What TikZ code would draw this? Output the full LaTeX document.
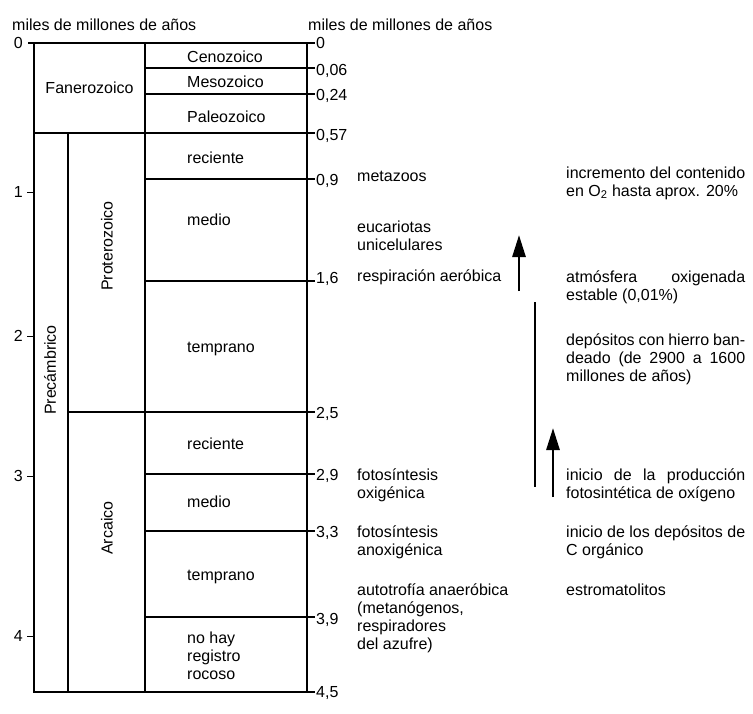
\documentclass[tikz,border=0pt]{standalone}
\usepackage{fontspec}
\setmainfont{Liberation Sans}
\usetikzlibrary{arrows.meta}
\newcommand\jl[1]{\makebox[179pt][s]{#1}}
\tikzset{
  txt/.style={inner sep=0pt, font=\fontsize{16}{18}\selectfont, align=left},
  lbl/.style={txt, anchor=base west},
  rlbl/.style={txt, anchor=base east},
  rot/.style={txt, rotate=90, anchor=center},
  tbl/.style={line width=1.2pt},
  tick/.style={line width=1pt},
  bigarrow/.style={line width=2.8pt, -{Triangle[length=22pt,width=13pt]}},
  plainbar/.style={line width=2.8pt}
}
\begin{document}
\begin{tikzpicture}[x=1pt,y=-1pt]
\useasboundingbox (0,0) rectangle (753,713);
\fill[white] (0,0) rectangle (753,713);
% headers
\node[lbl] (hL) at (12,30) {miles de millones de años};
\node[lbl] (hR) at (308,30) {miles de millones de años};
% table frame
\draw[tbl] (34,43) rectangle (307,692);
\draw[tbl] (145,43) -- (145,692);
\draw[tbl] (68,133) -- (68,692);
\draw[tbl] (28,43) -- (315,43);
\draw[tbl] (307,692) -- (315,692);
\draw[tbl] (145,68) -- (315,68);
\draw[tbl] (145,94) -- (315,94);
\draw[tbl] (34,133) -- (315,133);
\draw[tbl] (145,179) -- (315,179);
\draw[tbl] (145,281) -- (315,281);
\draw[tbl] (68,412) -- (315,412);
\draw[tbl] (145,474) -- (315,474);
\draw[tbl] (145,531) -- (315,531);
\draw[tbl] (145,617) -- (315,617);
% left axis
\foreach \yy in {192,336,476,636} \draw[tick] (27,\yy) -- (34,\yy);
\node[rlbl] (l0) at (23,48) {0};
\node[rlbl] (l1) at (23,197) {1};
\node[rlbl] (l2) at (23,341) {2};
\node[rlbl] (l3) at (23,481) {3};
\node[rlbl] (l4) at (23,641) {4};
% right scale labels
\node[lbl] (r0) at (316,48) {0};
\node[lbl] (r1) at (316,75) {0,06};
\node[lbl] (r2) at (316,100) {0,24};
\node[lbl] (r3) at (316,140) {0,57};
\node[lbl] (r4) at (316,185) {0,9};
\node[lbl] (r5) at (316,283) {1,6};
\node[lbl] (r6) at (316,418) {2,5};
\node[lbl] (r7) at (316,480) {2,9};
\node[lbl] (r8) at (316,537) {3,3};
\node[lbl] (r9) at (316,624) {3,9};
\node[lbl] (r10) at (316,697) {4,5};
% table labels
\node[txt, anchor=base] (fan) at (89.5,93) {Fanerozoico};
\node[lbl] (ceno) at (187,62) {Cenozoico};
\node[lbl] (meso) at (187,87) {Mesozoico};
\node[lbl] (paleo) at (187,122) {Paleozoico};
\node[lbl] (prec1) at (187,163) {reciente};
\node[lbl] (pmed) at (187,225) {medio};
\node[lbl] (ptem) at (187,352) {temprano};
\node[lbl] (arec) at (187,449) {reciente};
\node[lbl] (amed) at (187,507) {medio};
\node[lbl] (atem) at (187,580) {temprano};
\node[lbl] (nohay) at (187,679) {no hay\\registro\\rocoso};
\node[rot] (prot) at (107,246) {Proterozoico};
\node[rot] (precam) at (50,370) {Precámbrico};
\node[rot] (arca) at (107,528) {Arcaico};
% events, left column (multi-line nodes: base = last line)
\node[lbl] (meta) at (357,181) {metazoos};
\node[lbl] (euca) at (357,250) {eucariotas\\unicelulares};
\node[lbl] (resp) at (357,281) {respiración aeróbica};
\node[lbl] (foto) at (357,498) {fotosíntesis\\oxigénica};
\node[lbl] (fotoan) at (357,555) {fotosíntesis\\anoxigénica};
\node[lbl] (auto) at (357,649) {autotrofía anaeróbica\\(metanógenos,\\respiradores\\del azufre)};
% events, right column
\node[lbl] (incr) at (566,196) {\jl{incremento del contenido}\\en O\textsubscript{2} hasta aprox. 20\%};
\node[lbl] (atmo) at (566,300) {\jl{atmósfera oxigenada}\\estable (0,01\%)};
\node[lbl] (depo) at (566,381) {\jl{depósitos con hierro ban-}\\\jl{deado (de 2900 a 1600}\\millones de años)};
\node[lbl] (inic) at (566,498) {\jl{inicio de la producción}\\fotosintética de oxígeno};
\node[lbl] (inicc) at (566,555) {\jl{inicio de los depósitos de}\\C orgánico};
\node[lbl] (estro) at (566,595) {estromatolitos};
% arrows
\coordinate (a1s) at (519,291);
\coordinate (a1e) at (519,235);
\coordinate (b1s) at (535,302);
\coordinate (b1e) at (535,487);
\coordinate (a2s) at (553,497);
\coordinate (a2e) at (553,428);
\draw[bigarrow] (a1s) -- (a1e);
\draw[plainbar] (b1s) -- (b1e);
\draw[bigarrow] (a2s) -- (a2e);
\end{tikzpicture}
\end{document}
